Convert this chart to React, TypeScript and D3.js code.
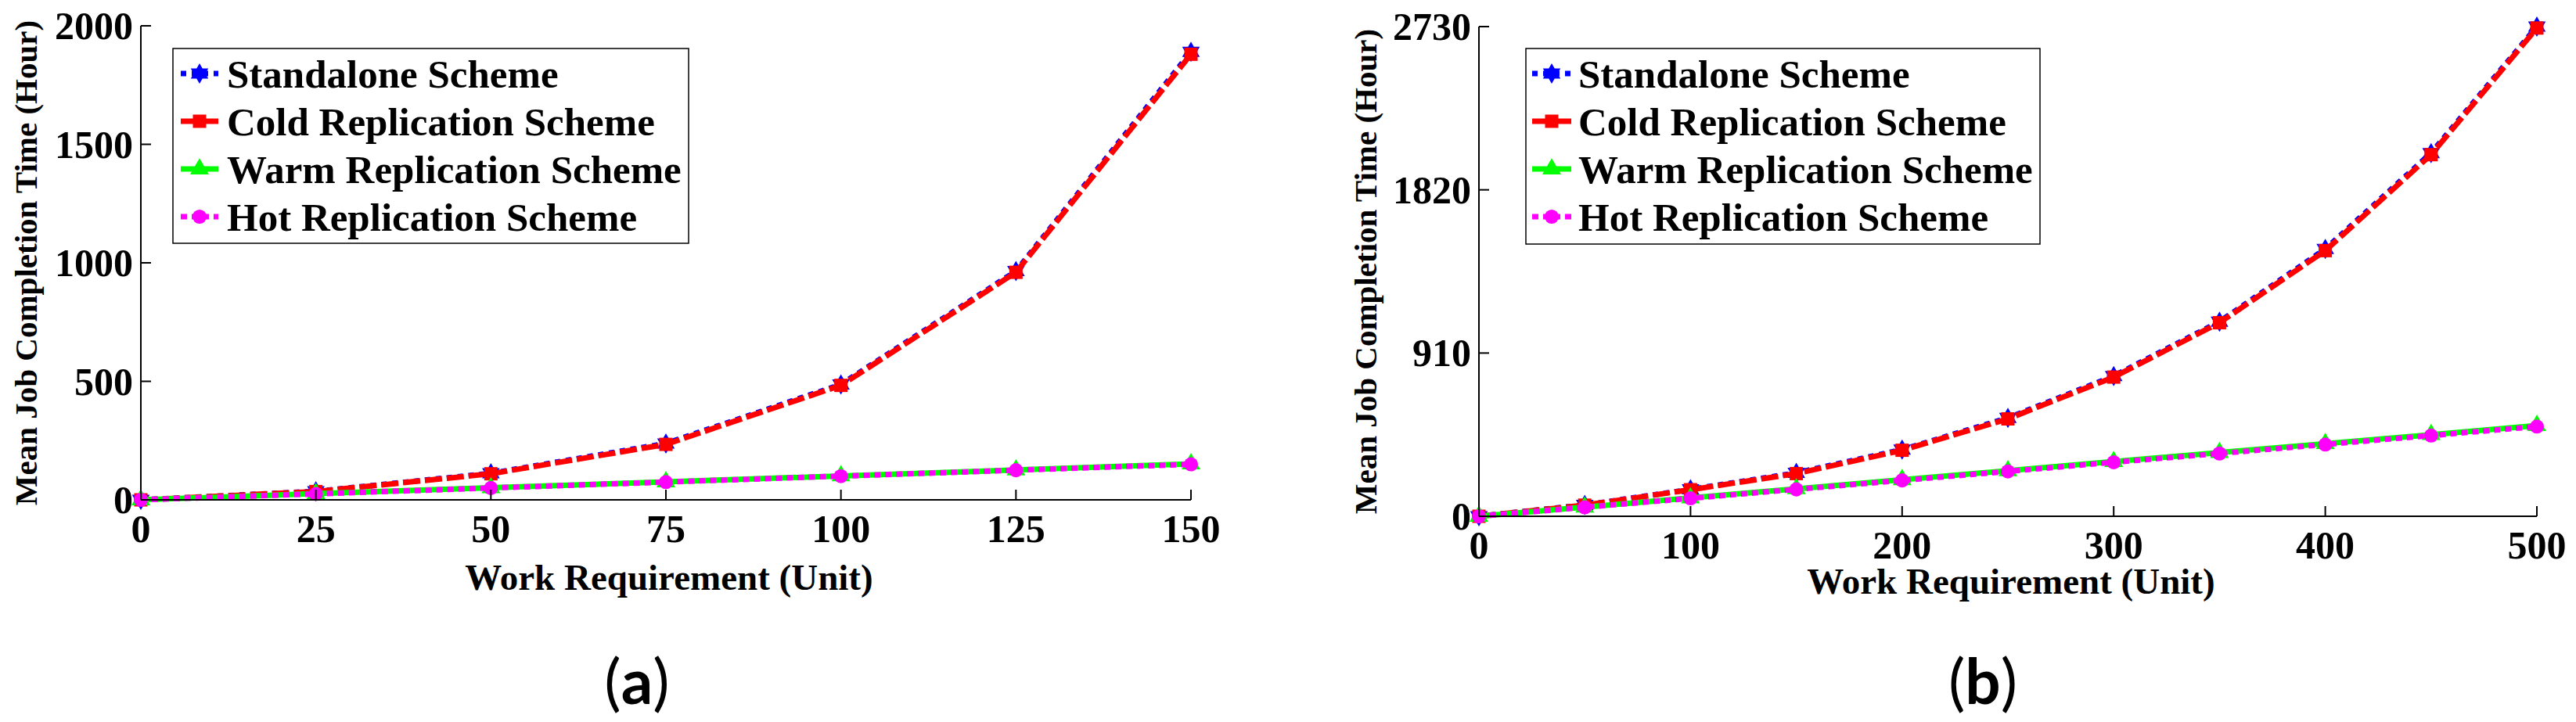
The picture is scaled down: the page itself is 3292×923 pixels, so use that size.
import React from 'react';
import * as d3 from 'd3';

// series names, in draw order
const seriesNames = [
  'Standalone Scheme',
  'Cold Replication Scheme',
  'Warm Replication Scheme',
  'Hot Replication Scheme',
];

// panel (a)
const workA = [0, 25, 50, 75, 100, 125, 150];
const standaloneA = [0, 36, 112, 238, 487, 965, 1890];
const coldA = [0, 35, 110, 234, 483, 960, 1880];
const warmA = [0, 26, 51, 76, 101, 126, 152];
const hotA = [0, 25, 50, 75, 100, 125, 150];
const xTicksA = [0, 25, 50, 75, 100, 125, 150];
const yTicksA = [0, 500, 1000, 1500, 2000];

// panel (b)
const workB = [0, 50, 100, 150, 200, 250, 300, 350, 400, 450, 500];
const standaloneB = [0, 63, 150, 242, 372, 548, 782, 1085, 1490, 2025, 2730];
const coldB = [0, 62, 148, 238, 368, 543, 776, 1079, 1481, 2016, 2722];
const warmB = [0, 51, 102, 153, 204, 254, 305, 355, 405, 455, 506];
const hotB = [0, 50, 100, 150, 200, 250, 301, 350, 400, 450, 500];
const xTicksB = [0, 100, 200, 300, 400, 500];
const yTicksB = [0, 910, 1820, 2730];

const yTitle = 'Mean Job Completion Time (Hour)';
const xTitle = 'Work Requirement (Unit)';

const styles = [
  { color: '#0000ff', dash: '7 7', marker: 'hexagram' },
  { color: '#ff0000', dash: '22 6', marker: 'square' },
  { color: '#00ff00', dash: null, marker: 'triangle' },
  { color: '#ff00ff', dash: '8 6', marker: 'circle' },
];

const SERIF = '"Liberation Serif", "Times New Roman", serif';

// six pointed star made from two triangles
const hexagram = (r) => {
  const tri = (off) =>
    d3
      .range(3)
      .map((i) => {
        const a = off + (i * 2 * Math.PI) / 3;
        return `${i === 0 ? 'M' : 'L'}${r * Math.sin(a)},${-r * Math.cos(a)}`;
      })
      .join('') + 'Z';
  return tri(0) + tri(Math.PI);
};

const markerPath = (kind) => {
  if (kind === 'hexagram') return hexagram(13);
  if (kind === 'square') return d3.symbol(d3.symbolSquare, 289)();
  if (kind === 'triangle') return d3.symbol(d3.symbolTriangle, 250)();
  return d3.symbol(d3.symbolCircle, 256)();
};

const Panel = ({ work, values, xTicks, yTicks, frame, legend, xTitleY, tag }) => {
  const x = d3.scaleLinear().domain([0, d3.max(xTicks)]).range([frame.left, frame.right]);
  const y = d3.scaleLinear().domain([0, d3.max(yTicks)]).range([frame.bottom, frame.top]);
  const line = d3
    .line()
    .x((d) => x(d[0]))
    .y((d) => y(d[1]));

  return (
    <g>
      {/* series */}
      {values.map((vals, i) => {
        const pts = work.map((w, j) => [w, vals[j]]);
        const st = styles[i];
        return (
          <g key={i}>
            <path
              d={line(pts)}
              fill="none"
              stroke={st.color}
              strokeWidth={7}
              strokeDasharray={st.dash || undefined}
            />
            {pts.map((p, j) => (
              <path
                key={j}
                d={markerPath(st.marker)}
                transform={`translate(${x(p[0])},${y(p[1])})`}
                fill={st.color}
              />
            ))}
          </g>
        );
      })}

      {/* axes */}
      <line x1={frame.left} x2={frame.left} y1={frame.top} y2={frame.bottom} stroke="#000" strokeWidth={2} />
      <line x1={frame.left} x2={frame.right} y1={frame.bottom} y2={frame.bottom} stroke="#000" strokeWidth={2} />
      {yTicks.map((t) => (
        <g key={'y' + t}>
          <line x1={frame.left} x2={frame.left + 13} y1={y(t)} y2={y(t)} stroke="#000" strokeWidth={2} />
          <text
            x={frame.left - 10}
            y={y(t) + 17}
            textAnchor="end"
            fontFamily={SERIF}
            fontWeight="bold"
            fontSize={50}
          >
            {t}
          </text>
        </g>
      ))}
      {xTicks.map((t) => (
        <g key={'x' + t}>
          <line x1={x(t)} x2={x(t)} y1={frame.bottom} y2={frame.bottom - 13} stroke="#000" strokeWidth={2} />
          <text
            x={x(t)}
            y={frame.bottom + 54}
            textAnchor="middle"
            fontFamily={SERIF}
            fontWeight="bold"
            fontSize={50}
          >
            {t}
          </text>
        </g>
      ))}

      {/* axis titles */}
      <text
        x={(frame.left + frame.right) / 2 + 4}
        y={xTitleY}
        textAnchor="middle"
        fontFamily={SERIF}
        fontWeight="bold"
        fontSize={47}
      >
        {xTitle}
      </text>
      <text
        transform={`translate(${frame.yTitleX},${(frame.top + frame.bottom) / 2}) rotate(-90)`}
        textAnchor="middle"
        dominantBaseline="central"
        fontFamily={SERIF}
        fontWeight="bold"
        fontSize={41}
      >
        {yTitle}
      </text>

      {/* legend */}
      <rect
        x={legend.left}
        y={legend.top}
        width={legend.right - legend.left}
        height={legend.bottom - legend.top}
        fill="#fff"
        stroke="#000"
        strokeWidth={1.5}
      />
      {seriesNames.map((name, i) => {
        const st = styles[i];
        const base = legend.top + 50 + i * 61;
        const cy = base - 18;
        return (
          <g key={name}>
            <line
              x1={legend.sample[0]}
              x2={legend.sample[1]}
              y1={cy}
              y2={cy}
              stroke={st.color}
              strokeWidth={7}
              strokeDasharray={st.dash || undefined}
            />
            <path
              d={markerPath(st.marker)}
              transform={`translate(${(legend.sample[0] + legend.sample[1]) / 2},${cy})`}
              fill={st.color}
            />
            <text x={legend.text} y={base} fontFamily={SERIF} fontWeight="bold" fontSize={51}>
              {name}
            </text>
          </g>
        );
      })}

      {/* sub figure tag */}
      <text
        x={tag.x}
        y={900}
        textAnchor="middle"
        fontFamily="Lato, 'Open Sans', sans-serif"
        fontSize={80}
      >
        (<tspan fontWeight="bold">{tag.label}</tspan>)
      </text>
    </g>
  );
};

const App = () => (
  <svg
    width={3292}
    height={923}
    viewBox="0 0 3292 923"
    style={{ position: 'absolute', left: 0, top: 0, background: '#fff' }}
  >
    <rect width={3292} height={923} fill="#fff" />
    <Panel
      work={workA}
      values={[standaloneA, coldA, warmA, hotA]}
      xTicks={xTicksA}
      yTicks={yTicksA}
      frame={{ left: 180, right: 1522, top: 33, bottom: 639, yTitleX: 33 }}
      legend={{ left: 221, right: 880, top: 62, bottom: 311, sample: [231, 279], text: 290 }}
      xTitleY={754}
      tag={{ x: 814, label: 'a' }}
    />
    <Panel
      work={workB}
      values={[standaloneB, coldB, warmB, hotB]}
      xTicks={xTicksB}
      yTicks={yTicksB}
      frame={{ left: 1890, right: 3242, top: 34, bottom: 660, yTitleX: 1745 }}
      legend={{ left: 1950, right: 2607, top: 62, bottom: 312, sample: [1958, 2008], text: 2017 }}
      xTitleY={759}
      tag={{ x: 2534, label: 'b' }}
    />
  </svg>
);

export default App;
